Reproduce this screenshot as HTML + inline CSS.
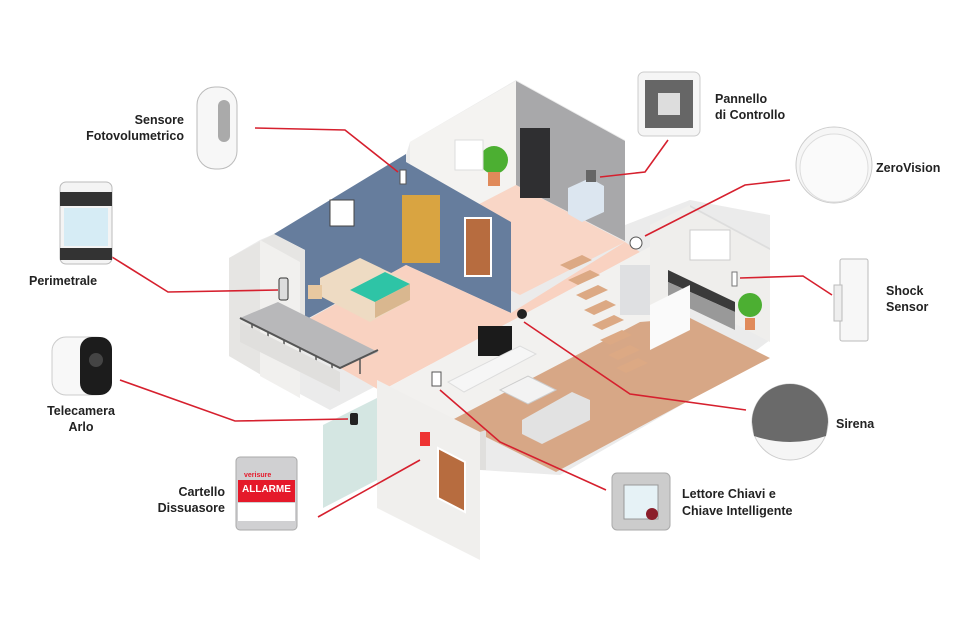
<!DOCTYPE html>
<html><head><meta charset="utf-8"><style>
html,body{margin:0;padding:0;background:#fff;width:960px;height:630px;overflow:hidden}
svg{display:block}
text{font-family:"Liberation Sans Narrow","Liberation Sans",sans-serif;font-weight:bold;font-size:12.5px;fill:#222}
</style></head><body>
<svg width="960" height="630" viewBox="0 0 960 630">
<polygon points="229,258 229,356 330,410 378,385 378,380 430,360 445,420 480,470 560,475 690,400 770,340 770,215 690,200 625,225 625,140 516,80 410,142 406,155 274,234 260,240" fill="#ebebeb"/>
<polygon points="516,81 625,141 625,241 516,185" fill="#a8a8aa"/>
<polygon points="410,142 516,81 516,185 410,240" fill="#f4f3f1"/>
<polygon points="410,240 516,185 625,242 520,295" fill="#f9d6c6"/>
<polygon points="274,234 406,154 406,162 511,222 511,313 406,265 305,320 305,250" fill="#667d9d"/>
<polygon points="307,320 406,265 511,313 625,242 640,252 381,391 335,365" fill="#f9d2c1"/>
<polygon points="229,258 274,234 305,250 305,320 300,322 300,398 229,356" fill="#e6e5e3"/>
<polygon points="260,240 300,262 300,398 260,376" fill="#f1f0ee"/>
<polygon points="240,318 340,368 378,352 278,302" fill="#b8b8ba"/>
<polyline points="240,318 340,368 378,350" fill="none" stroke="#555" stroke-width="2"/>
<g stroke="#555" stroke-width="1.5"><line x1="252" y1="324" x2="252" y2="340"/><line x1="268" y1="332" x2="268" y2="348"/><line x1="284" y1="340" x2="284" y2="356"/><line x1="300" y1="348" x2="300" y2="364"/><line x1="316" y1="356" x2="316" y2="372"/><line x1="332" y1="364" x2="332" y2="380"/><line x1="360" y1="358" x2="360" y2="374"/></g>
<polygon points="240,322 340,372 340,392 240,342" fill="#e0dfdd"/>
<polygon points="381,391 640,252 690,225 690,320 560,388 452,420" fill="#f2f1ef"/>
<polygon points="452,420 640,322 690,318 770,358 690,400 556,472" fill="#d7a786"/>
<polygon points="650,225 690,205 770,248 770,342 690,300 650,320" fill="#efeeec"/>
<polygon points="690,205 770,248 770,250 690,207" fill="#ddd"/>
<rect x="620" y="265" width="30" height="50" fill="#dfe0e2"/>
<polygon points="668,270 735,302 735,312 668,282" fill="#3a3a3a"/>
<polygon points="668,282 735,312 735,330 668,298" fill="#999"/>
<rect x="690" y="230" width="40" height="30" fill="#fff" stroke="#ccc"/>
<polygon points="650,305 690,285 690,330 650,350" fill="#fafafa"/>
<g fill="#dca984"><polygon points="560,265 582,255 592,260 570,270"/><polygon points="568,280 590,270 600,275 578,285"/><polygon points="576,295 598,285 608,290 586,300"/><polygon points="584,310 606,300 616,305 594,315"/><polygon points="592,325 614,315 624,320 602,330"/><polygon points="600,340 622,330 632,335 610,345"/><polygon points="608,355 630,345 640,350 618,360"/><polygon points="616,368 638,358 648,363 626,373"/></g>
<polygon points="320,278 360,258 410,282 410,300 370,322 320,296" fill="#eedbc3"/>
<polygon points="350,290 385,272 410,284 375,302" fill="#2ec4a6"/>
<polygon points="375,302 410,284 410,300 375,318" fill="#d9b78f"/>
<rect x="402" y="195" width="38" height="68" fill="#d9a441"/>
<rect x="465" y="218" width="26" height="58" fill="#b76c3f" stroke="#fff" stroke-width="2"/>
<rect x="330" y="200" width="24" height="26" fill="#fff" stroke="#444"/>
<rect x="308" y="285" width="14" height="14" fill="#e8c8a0"/>
<rect x="520" y="128" width="30" height="70" fill="#2f2f31"/>
<polygon points="568,188 590,178 604,186 604,212 582,222 568,214" fill="#dce6f0"/>
<circle cx="494" cy="160" r="14" fill="#4caf32"/>
<rect x="488" y="172" width="12" height="14" fill="#e08a5a"/>
<rect x="455" y="140" width="28" height="30" fill="#fff" stroke="#ddd"/>
<circle cx="750" cy="305" r="12" fill="#4caf32"/>
<rect x="745" y="318" width="10" height="12" fill="#e08a5a"/>
<rect x="478" y="326" width="34" height="30" fill="#1b1b1b"/>
<polygon points="448,382 520,346 536,354 464,392" fill="#f6f6f6" stroke="#ddd"/>
<polygon points="500,390 528,376 556,390 528,404" fill="#f3f3f3" stroke="#ccc"/>
<polygon points="522,420 572,392 590,400 590,420 542,444 522,434" fill="#e2e2e2"/>
<polygon points="323,425 377,398 377,480 323,508" fill="#d4e6e2"/>
<polygon points="377,380 480,432 480,560 377,508" fill="#f0efed"/>
<polygon points="480,432 480,470 486,470 486,430" fill="#e0dfdd"/>
<polygon points="438,448 465,462 465,512 438,498" fill="#b76c3f" stroke="#fff" stroke-width="2"/>
<rect x="420" y="432" width="10" height="14" fill="#e33" />
<rect x="400" y="170" width="6" height="14" fill="#fff" stroke="#555"/>
<rect x="279" y="278" width="9" height="22" rx="2" fill="#ddd" stroke="#333"/>
<rect x="350" y="413" width="8" height="12" rx="2" fill="#222"/>
<rect x="586" y="170" width="10" height="12" fill="#666"/>
<circle cx="636" cy="243" r="6" fill="#fff" stroke="#555"/>
<rect x="732" y="272" width="5" height="14" fill="#fff" stroke="#777"/>
<circle cx="522" cy="314" r="5" fill="#222"/>
<rect x="432" y="372" width="9" height="14" fill="#fff" stroke="#555"/>
<g fill="none" stroke="#d6202e" stroke-width="1.6">
<polyline points="255,128 345,130 398,172"/>
<polyline points="112,257 168,292 278,290"/>
<polyline points="120,380 235,421 348,419"/>
<polyline points="318,517 420,460"/>
<polyline points="668,140 645,172 600,177"/>
<polyline points="790,180 745,185 645,236"/>
<polyline points="832,295 803,276 740,278"/>
<polyline points="746,410 630,394 524,322"/>
<polyline points="606,490 500,442 440,390"/>
</g>
<rect x="197" y="87" width="40" height="82" rx="18" fill="#f7f7f7" stroke="#bbb"/>
<rect x="218" y="100" width="12" height="42" rx="6" fill="#aaa"/>
<rect x="60" y="182" width="52" height="82" rx="6" fill="#f4f4f4" stroke="#bbb"/>
<rect x="60" y="192" width="52" height="14" fill="#333"/>
<rect x="64" y="208" width="44" height="38" fill="#d6ecf5"/>
<rect x="60" y="248" width="52" height="12" fill="#333"/>
<rect x="52" y="337" width="58" height="58" rx="14" fill="#f8f8f8" stroke="#ccc"/>
<rect x="80" y="337" width="32" height="58" rx="12" fill="#1c1c1c"/>
<circle cx="96" cy="360" r="7" fill="#444"/>
<rect x="236" y="457" width="61" height="73" rx="4" fill="#d0d0d2" stroke="#aaa"/>
<rect x="238" y="480" width="57" height="22" fill="#e5192a"/>
<rect x="238" y="503" width="57" height="18" fill="#fff"/>
<text x="244" y="477" style="font-size:7px;fill:#e5192a">verisure</text>
<text x="242" y="492" style="font-size:10px;fill:#fff">ALLARME</text>
<rect x="638" y="72" width="62" height="64" rx="6" fill="#f5f5f5" stroke="#ccc"/>
<rect x="645" y="80" width="48" height="48" fill="#666"/>
<rect x="658" y="93" width="22" height="22" fill="#ddd"/>
<circle cx="834" cy="165" r="38" fill="#f6f6f6" stroke="#ccc"/>
<circle cx="834" cy="168" r="34" fill="#fafafa" stroke="#ddd"/>
<rect x="840" y="259" width="28" height="82" rx="2" fill="#f7f7f7" stroke="#bbb"/>
<rect x="834" y="285" width="8" height="36" fill="#eee" stroke="#bbb"/>
<circle cx="790" cy="422" r="38" fill="#f5f5f5" stroke="#ccc"/>
<path d="M752,422 A38,38 0 0 1 828,422 L826,436 Q790,448 754,436 Z" fill="#6a6a6a"/>
<rect x="612" y="473" width="58" height="57" rx="5" fill="#ccc" stroke="#aaa"/>
<rect x="624" y="485" width="34" height="34" fill="#e6f2f6" stroke="#999"/>
<circle cx="652" cy="514" r="6" fill="#8b1e2a"/>
<text x="184" y="124" text-anchor="end">Sensore</text>
<text x="184" y="140" text-anchor="end">Fotovolumetrico</text>
<text x="29" y="285">Perimetrale</text>
<text x="81" y="415" text-anchor="middle">Telecamera</text>
<text x="81" y="431" text-anchor="middle">Arlo</text>
<text x="225" y="496" text-anchor="end">Cartello</text>
<text x="225" y="512" text-anchor="end">Dissuasore</text>
<text x="715" y="103">Pannello</text>
<text x="715" y="119">di Controllo</text>
<text x="876" y="172">ZeroVision</text>
<text x="886" y="295">Shock</text>
<text x="886" y="311">Sensor</text>
<text x="836" y="428">Sirena</text>
<text x="682" y="498">Lettore Chiavi e</text>
<text x="682" y="515">Chiave Intelligente</text>
</svg>
</body></html>
